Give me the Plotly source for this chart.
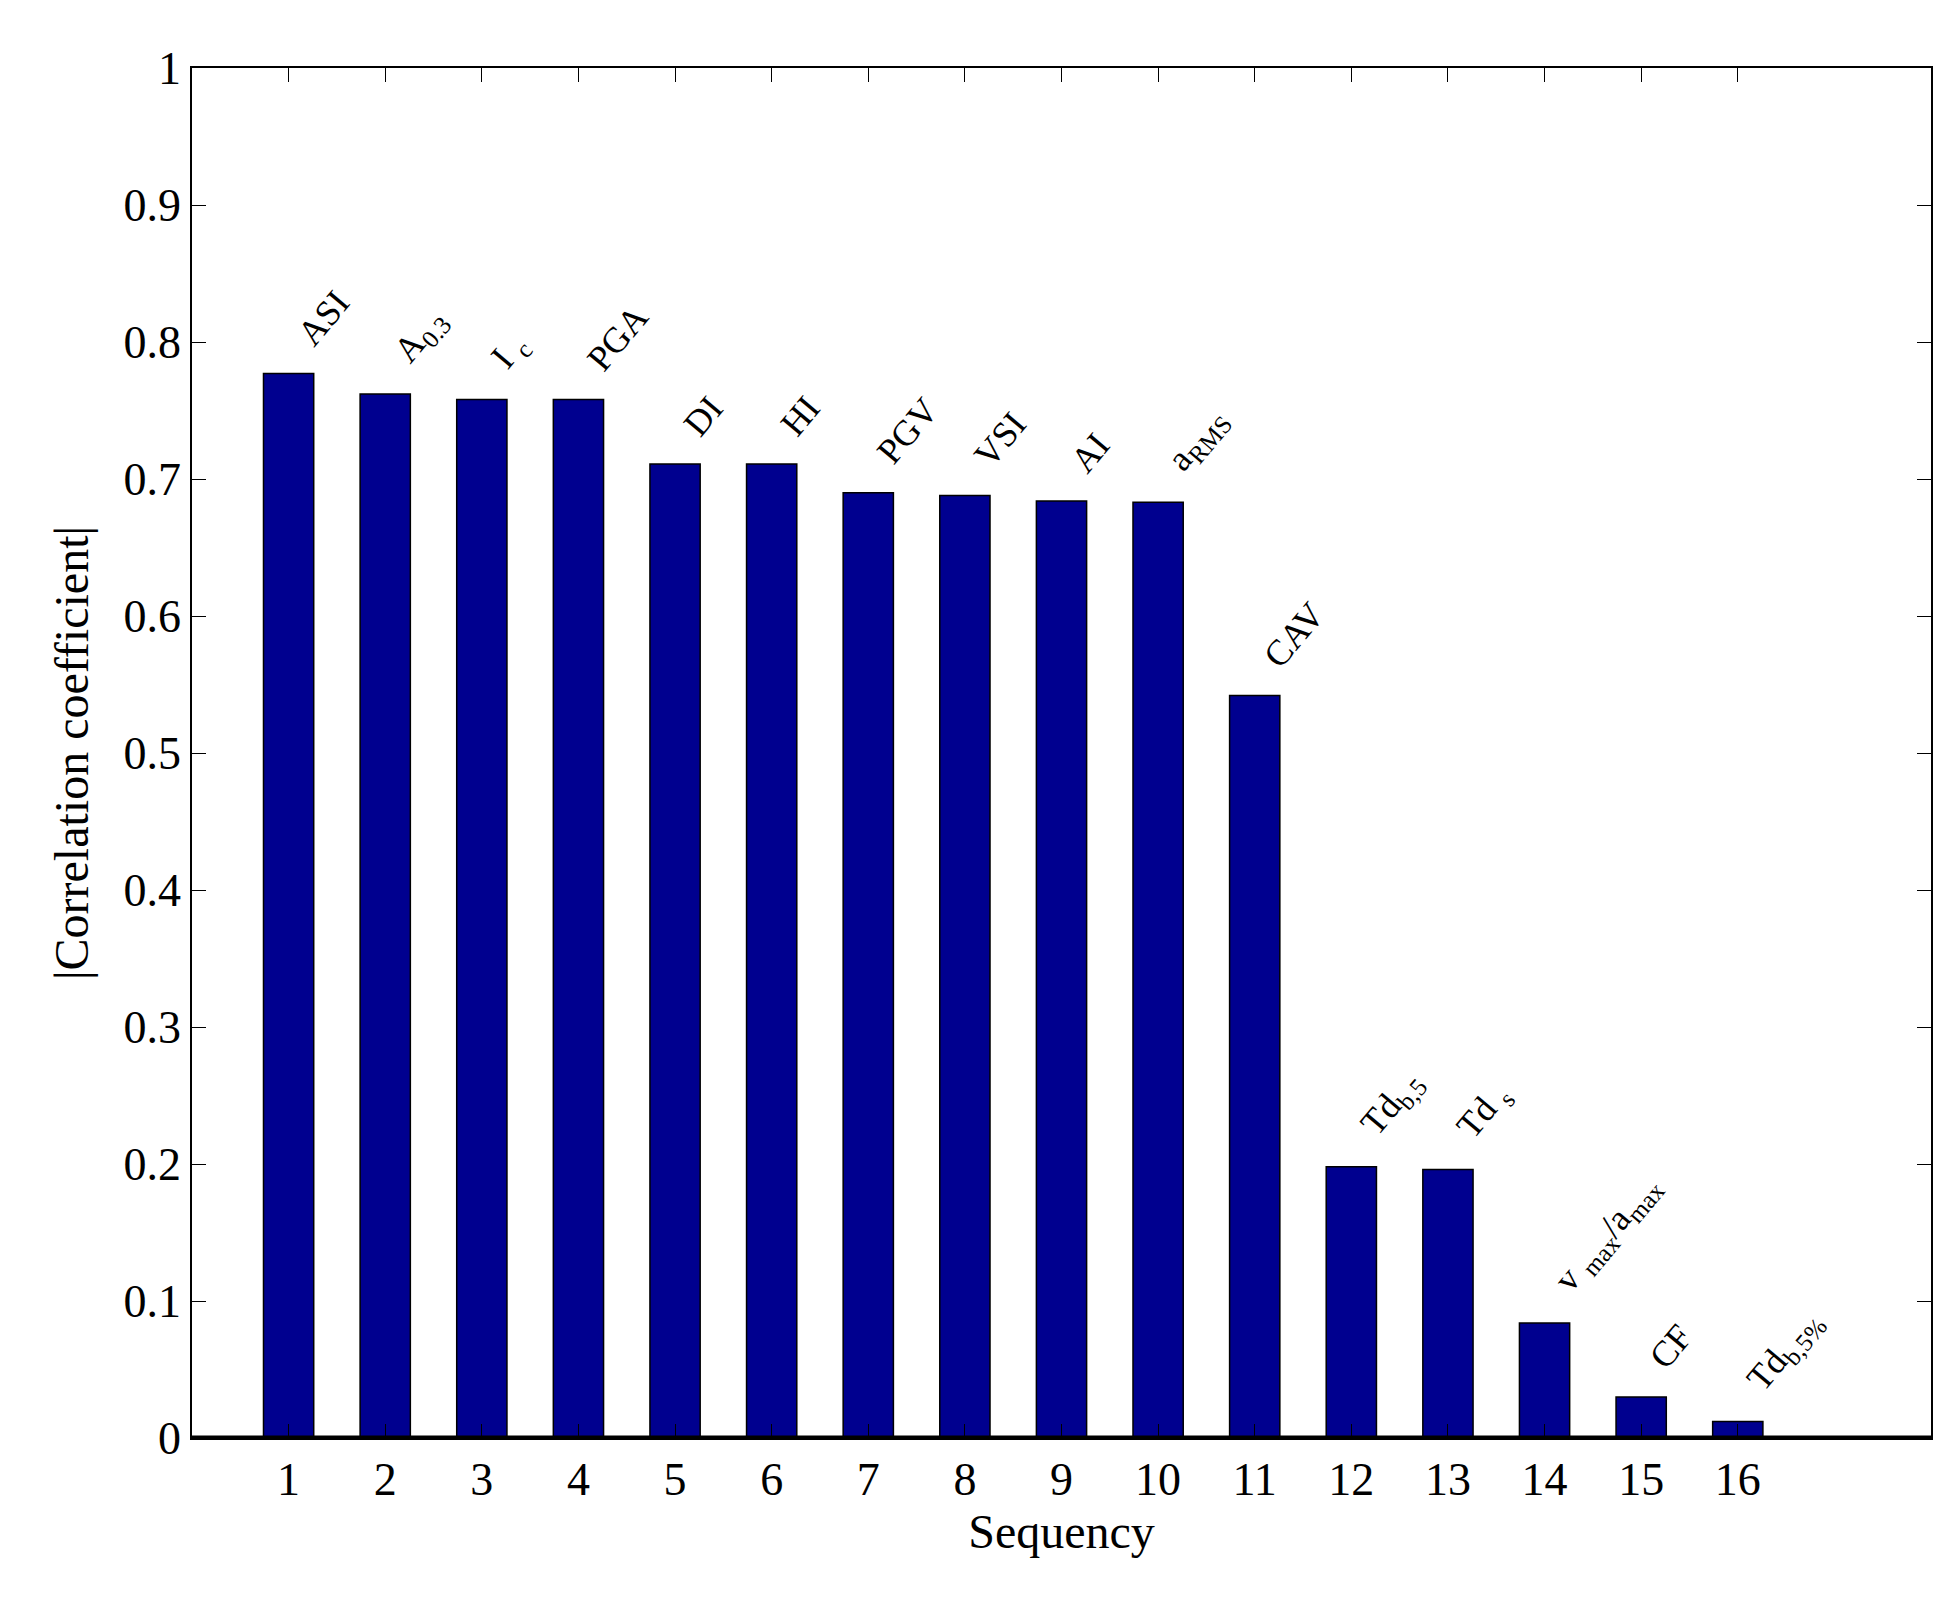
import plotly.graph_objects as go

seq = list(range(1, 17))
values = [0.777, 0.762, 0.758, 0.758, 0.711, 0.711, 0.690, 0.688, 0.684, 0.683,
          0.542, 0.198, 0.196, 0.084, 0.030, 0.012]
labels = ["ASI", "A<sub>0.3</sub>", "I <sub>c</sub>", "PGA", "DI", "HI", "PGV", "VSI", "AI",
          "a<sub>RMS</sub>", "CAV", "Td<sub>b,5</sub>", "Td <sub>s</sub>",
          "v <sub>max</sub>/a<sub>max</sub>", "CF", "Td<sub>b,5%</sub>"]
yticks = [0, 0.1, 0.2, 0.3, 0.4, 0.5, 0.6, 0.7, 0.8, 0.9, 1]
ytext = ["0", "0.1", "0.2", "0.3", "0.4", "0.5", "0.6", "0.7", "0.8", "0.9", "1"]

font = "Liberation Serif"
fig = go.Figure(go.Bar(x=seq, y=values, width=0.52,
                       marker=dict(color="#00008F", line=dict(color="black", width=1.5))))
for x, y, t in zip(seq, values, labels):
    fig.add_annotation(x=x, y=y, text=t, showarrow=False, textangle=-50,
                       xanchor="left", yanchor="bottom", xshift=-2, yshift=18,
                       font=dict(family=font, size=36, color="black"))
axis = dict(showline=True, linecolor="black", linewidth=1.5, mirror="ticks",
            ticks="inside", ticklen=14, tickcolor="black", showgrid=False, zeroline=False,
            tickfont=dict(family=font, size=46, color="black"))
fig.update_layout(
    width=1955, height=1598, plot_bgcolor="white", paper_bgcolor="white",
    margin=dict(l=184, r=32, t=60, b=168), showlegend=False,
    xaxis=dict(axis, range=[0, 18], tickvals=seq, ticktext=[str(s) for s in seq],
               title=dict(text="Sequency", font=dict(family=font, size=48, color="black"), standoff=5)),
    yaxis=dict(axis, range=[0, 1], tickvals=yticks, ticktext=ytext,
               title=dict(text="|Correlation coefficient|", font=dict(family=font, size=48, color="black"), standoff=20)),
)
fig.add_shape(type="line", xref="paper", yref="y", x0=0, x1=1, y0=0, y1=0,
              line=dict(color="black", width=5))
fig.write_html("out.html")
